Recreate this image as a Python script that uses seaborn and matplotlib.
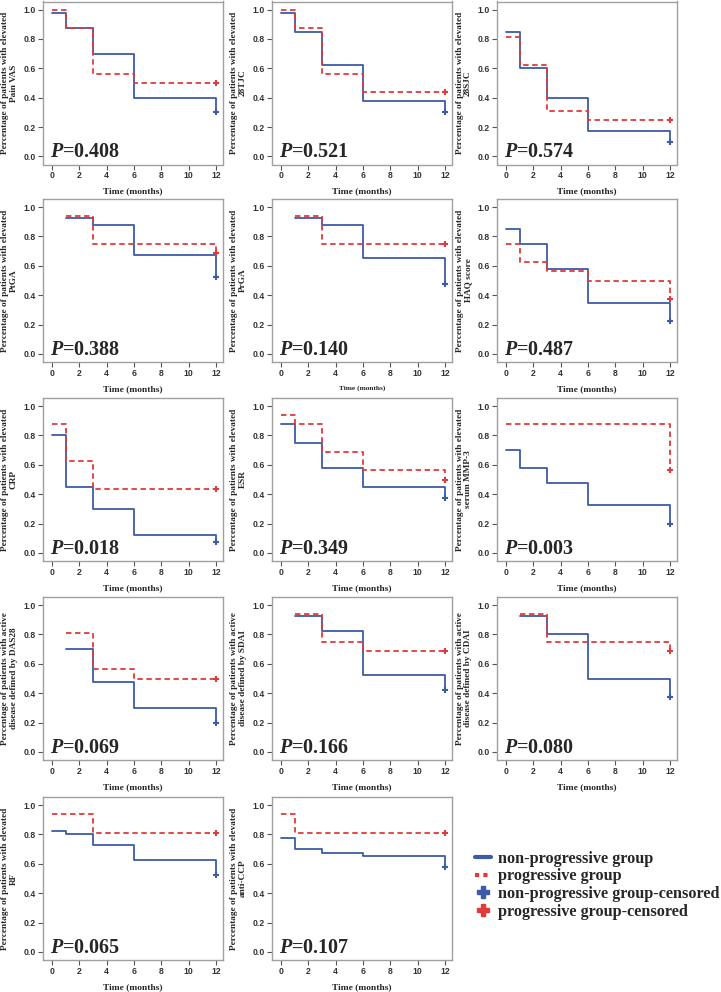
import matplotlib
matplotlib.use("Agg")
import matplotlib.pyplot as plt
from matplotlib.lines import Line2D
import seaborn as sns

# y-axis labels, p values and step data for each panel
labels = [
    "Percentage of patients with elevated\nPain VAS",
    "Percentage of patients with elevated\n28TJC",
    "Percentage of patients with elevated\n28SJC",
    "Percentage of patients with elevated\nPtGA",
    "Percentage of patients with elevated\nPrGA",
    "Percentage of patients with elevated\nHAQ score",
    "Percentage of patients with elevated\nCRP",
    "Percentage of patients with elevated\nESR",
    "Percentage of patients with elevated\nserum MMP-3",
    "Percentage of patients with active\ndisease defined by DAS28",
    "Percentage of patients with active\ndisease defined by SDAI",
    "Percentage of patients with active\ndisease defined by CDAI",
    "Percentage of patients with elevated\nRF",
    "Percentage of patients with elevated\nanti-CCP",
]
pvals = ["0.408", "0.521", "0.574", "0.388", "0.140", "0.487", "0.018",
         "0.349", "0.003", "0.069", "0.166", "0.080", "0.065", "0.107"]

nonprog_t = [
    [0, 1, 3, 6, 12], [0, 1, 3, 6, 12], [0, 1, 3, 6, 12],
    [1, 3, 6, 12], [1, 3, 6, 12], [0, 1, 3, 6, 12],
    [0, 1, 3, 6, 12], [0, 1, 3, 6, 12], [0, 1, 3, 6, 12],
    [1, 3, 6, 12], [1, 3, 6, 12], [1, 3, 6, 12],
    [0, 1, 3, 6, 12], [0, 1, 3, 6, 12],
]
nonprog_s = [
    [0.975, 0.875, 0.70, 0.40, 0.30],
    [0.975, 0.85, 0.625, 0.375, 0.30],
    [0.85, 0.60, 0.40, 0.175, 0.10],
    [0.925, 0.875, 0.675, 0.525],
    [0.925, 0.875, 0.65, 0.475],
    [0.85, 0.75, 0.575, 0.35, 0.225],
    [0.80, 0.45, 0.30, 0.125, 0.075],
    [0.875, 0.75, 0.575, 0.45, 0.375],
    [0.70, 0.575, 0.475, 0.325, 0.20],
    [0.70, 0.475, 0.30, 0.20],
    [0.925, 0.825, 0.525, 0.425],
    [0.925, 0.80, 0.50, 0.375],
    [0.825, 0.80, 0.725, 0.625, 0.525],
    [0.775, 0.70, 0.675, 0.65, 0.575],
]
prog_t = [
    [0, 1, 3, 6, 12], [0, 1, 3, 6, 12], [0, 1, 3, 6, 12],
    [1, 3, 12], [1, 3, 12], [0, 1, 3, 6, 12],
    [0, 1, 3, 12], [0, 1, 3, 6, 12], [0, 12],
    [1, 3, 6, 12], [1, 3, 6, 12], [1, 3, 12],
    [0, 3, 12], [0, 1, 12],
]
prog_s = [
    [1.0, 0.875, 0.5625, 0.50, 0.50],
    [1.0, 0.875, 0.5625, 0.4375, 0.4375],
    [0.8125, 0.625, 0.3125, 0.25, 0.25],
    [0.9375, 0.75, 0.6875],
    [0.9375, 0.75, 0.75],
    [0.75, 0.625, 0.5625, 0.50, 0.375],
    [0.875, 0.625, 0.4375, 0.4375],
    [0.9375, 0.875, 0.6875, 0.5625, 0.50],
    [0.875, 0.5625],
    [0.8125, 0.5625, 0.50, 0.50],
    [0.9375, 0.75, 0.6875, 0.6875],
    [0.9375, 0.75, 0.6875],
    [0.9375, 0.8125, 0.8125],
    [0.9375, 0.8125, 0.8125],
]

blue = "#3d5ba8"
red = "#e23a3a"
frame = "#a0a0a0"

sns.set_theme(style="white")
plt.rcParams["font.family"] = ["Liberation Serif", "DejaVu Serif"]
plt.rcParams["mathtext.fontset"] = "custom"
plt.rcParams["mathtext.it"] = "Liberation Serif:italic:bold"
plt.rcParams["mathtext.rm"] = "Liberation Serif:bold"

W, H = 721, 992
fig = plt.figure(figsize=(W / 100, H / 100), dpi=100)

col_left = [43, 272, 497]
row_top = [1.5, 199, 398, 597, 797]
aw, ah = 180, 163

for i in range(14):
    r, c = divmod(i, 3)
    ax = fig.add_axes([col_left[c] / W, 1 - (row_top[r] + ah) / H, aw / W, ah / H])

    sns.lineplot(x=nonprog_t[i], y=nonprog_s[i], drawstyle="steps-post",
                 estimator=None, sort=False, color=blue, linewidth=1.3, ax=ax)
    sns.lineplot(x=prog_t[i], y=prog_s[i], drawstyle="steps-post",
                 estimator=None, sort=False, color=red, linewidth=1.3,
                 linestyle=(0, (3, 2)), ax=ax)
    sns.scatterplot(x=[nonprog_t[i][-1]], y=[nonprog_s[i][-1]], marker="+",
                    s=18, color=blue, linewidth=1.5, ax=ax, zorder=5)
    sns.scatterplot(x=[prog_t[i][-1]], y=[prog_s[i][-1]], marker="+",
                    s=18, color=red, linewidth=1.5, ax=ax, zorder=5)

    ax.set_xlim(-0.66, 12.5)
    ax.set_ylim(-0.055, 1.055)
    ax.set_xticks(range(0, 13, 2))
    ax.set_yticks([0, 0.2, 0.4, 0.6, 0.8, 1.0])
    ax.set_yticklabels([f"{v:.1f}" for v in [0, 0.2, 0.4, 0.6, 0.8, 1.0]])
    for lab in ax.get_xticklabels() + ax.get_yticklabels():
        lab.set_family("Liberation Sans")
        lab.set_fontweight("bold")
        lab.set_fontsize(6.2)
        lab.set_color("#333333")
    ax.tick_params(axis="both", length=3.5, width=0.8, color="#555555",
                   pad=1.5, bottom=True, left=True)
    for sp in ax.spines.values():
        sp.set_color(frame)
        sp.set_linewidth(1.0)

    xfs = 5.3 if i == 4 else 6.8
    ax.set_xlabel("Time (months)", fontsize=xfs, fontweight="bold", labelpad=5)
    ax.set_ylabel(labels[i], fontsize=6.7, fontweight="bold", linespacing=1.05)
    ax.yaxis.set_label_coords(-0.14, 0.5)
    ax.text(0.04, 0.045, f"$P$=" + pvals[i], transform=ax.transAxes,
            fontsize=14.5, fontweight="bold", va="baseline", ha="left")

handles = [
    Line2D([0], [0], color=blue, linewidth=3),
    Line2D([0], [0], color=red, linewidth=3, linestyle=(0, (1, 1))),
    Line2D([0], [0], color=blue, marker="P", markersize=8, linestyle="none"),
    Line2D([0], [0], color=red, marker="P", markersize=8, linestyle="none"),
]
names = ["non-progressive group", "progressive group",
         "non-progressive group-censored", "progressive group-censored"]
fig.legend(handles, names, loc="upper left", bbox_to_anchor=(470 / W, 1 - 846 / H),
           frameon=False, handlelength=1.0, handletextpad=0.45, labelspacing=0.1,
           borderaxespad=0, borderpad=0.3,
           prop={"family": "Liberation Serif", "weight": "bold", "size": 11.7})

fig.savefig("out.png", dpi=100, facecolor="white")
